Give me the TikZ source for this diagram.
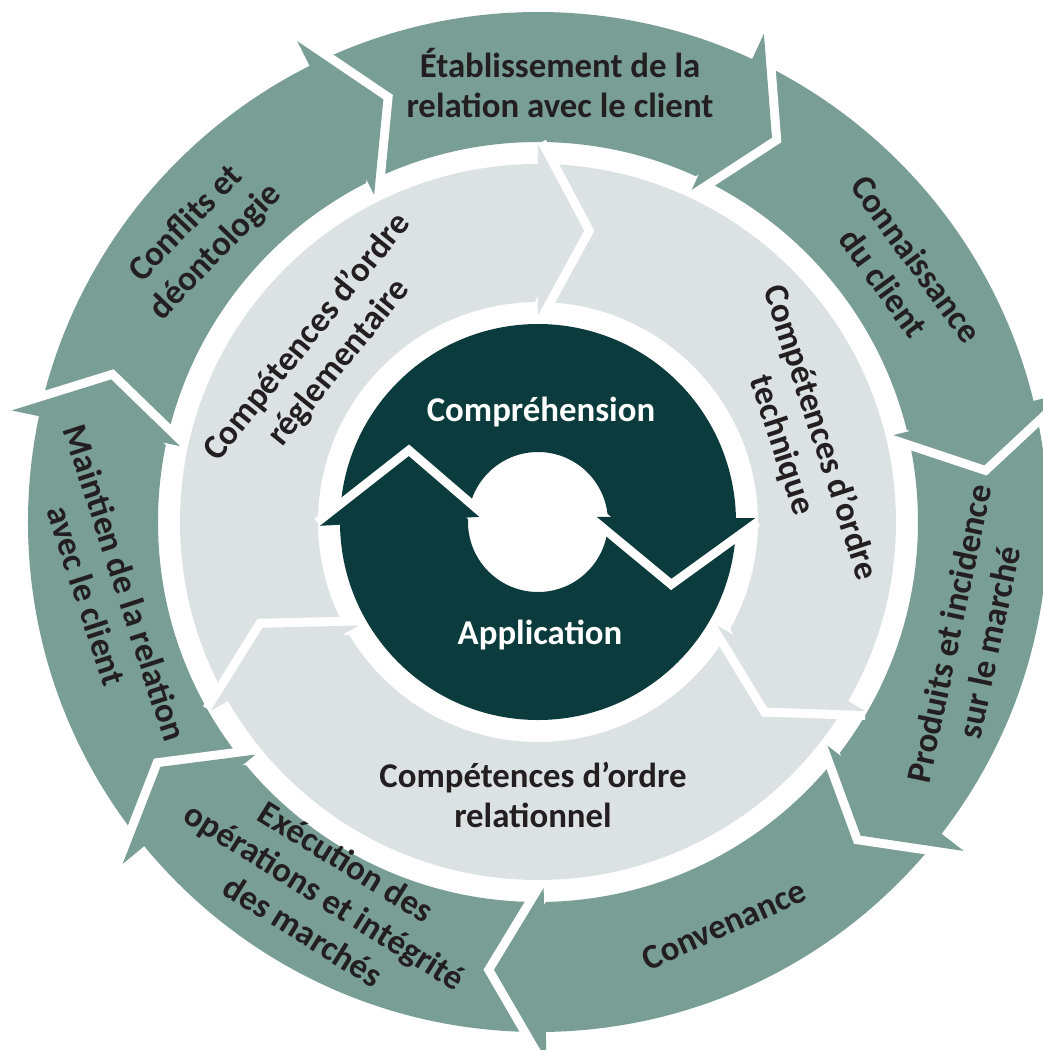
\documentclass[tikz,border=0pt]{standalone}
\usepackage{fontspec}
\setmainfont{Carlito}
\usetikzlibrary{calc}
\definecolor{ringteal}{RGB}{121,158,150}
\definecolor{ringgrey}{RGB}{220,226,228}
\definecolor{corepine}{RGB}{11,59,60}
\definecolor{inkdark}{RGB}{35,31,32}

\begin{document}
\begin{tikzpicture}[x=0.01cm,y=0.01cm,
  gapline/.style={draw=white,line width=0.18cm,line join=miter,line cap=butt},
  ringlabel/.style={text=inkdark,font=\bfseries\fontsize{9.9}{11.6}\selectfont,align=center,inner sep=0pt},
  corelabel/.style={text=white,font=\bfseries\fontsize{9.9}{11.6}\selectfont,inner sep=0pt}]

\clip (-538,-528) rectangle (505,522);
\useasboundingbox (-538,-528) rectangle (505,522);

% outer ring, seven arrows
\fill[ringteal,even odd rule] (0,0) circle (510) (0,0) circle (380);
\foreach \b in {116.6,65.17,13.74,-37.69,-89.11,-140.54,-191.97}{
  \draw[gapline] (\b:538) -- (\b-6.5:450) -- (\b:366);
  \fill[ringteal] (\b:538) -- (\b-6.5:450) -- (\b:366) -- cycle;
}

% middle ring, three arrows
\fill[ringgrey,even odd rule] (0,0) circle (358) (0,0) circle (220);
\foreach \b in {90,-30,210}{
  \draw[gapline] (\b:378) -- (\b-9:295) -- (\b:207);
  \fill[ringgrey] (\b:378) -- (\b-9:295) -- (\b:207) -- cycle;
}

% core, two arrows
\fill[corepine,even odd rule] (0,0) circle (198) (0,0) circle (70);
\draw[gapline] (181:218) -- (153:145) -- (175:59);
\fill[corepine] (181:218) -- (153:145) -- (175:59) -- cycle;
\draw[gapline] (1:217) -- (-23:145) -- (5:59);
\fill[corepine] (1:217) -- (-23:145) -- (5:59) -- cycle;

% labels
\node[ringlabel] (establish) at (22,439) {Établissement de la\\relation avec le client};
\node[ringlabel,rotate=-54] (knowledge) at (362,251) {Connaissance\\du client};
\node[ringlabel,rotate=78] (products) at (431,-116) {Produits et incidence\\sur le marché};
\node[ringlabel,rotate=24] (suitability) at (186,-403) {Convenance};
\node[ringlabel,rotate=-32] (execution) at (-213,-374) {Exécution des\\opérations et intégrité\\des marchés};
\node[ringlabel,rotate=-72] (maintain) at (-432,-67) {Maintien de la relation\\avec le client};
\node[ringlabel,rotate=46] (conflicts) at (-337,284) {Conflits et\\déontologie};

\node[ringlabel,rotate=51] (regulatory) at (-215,172) {Compétences d’ordre\\réglementaire};
\node[ringlabel,rotate=-72] (technical) at (263,83) {Compétences d’ordre\\technique};
\node[ringlabel] (relational) at (-5,-273) {Compétences d’ordre\\relationnel};

\node[corelabel] (understanding) at (3,110) {Compréhension};
\node[corelabel] (application) at (2,-113) {Application};
\end{tikzpicture}
\end{document}
